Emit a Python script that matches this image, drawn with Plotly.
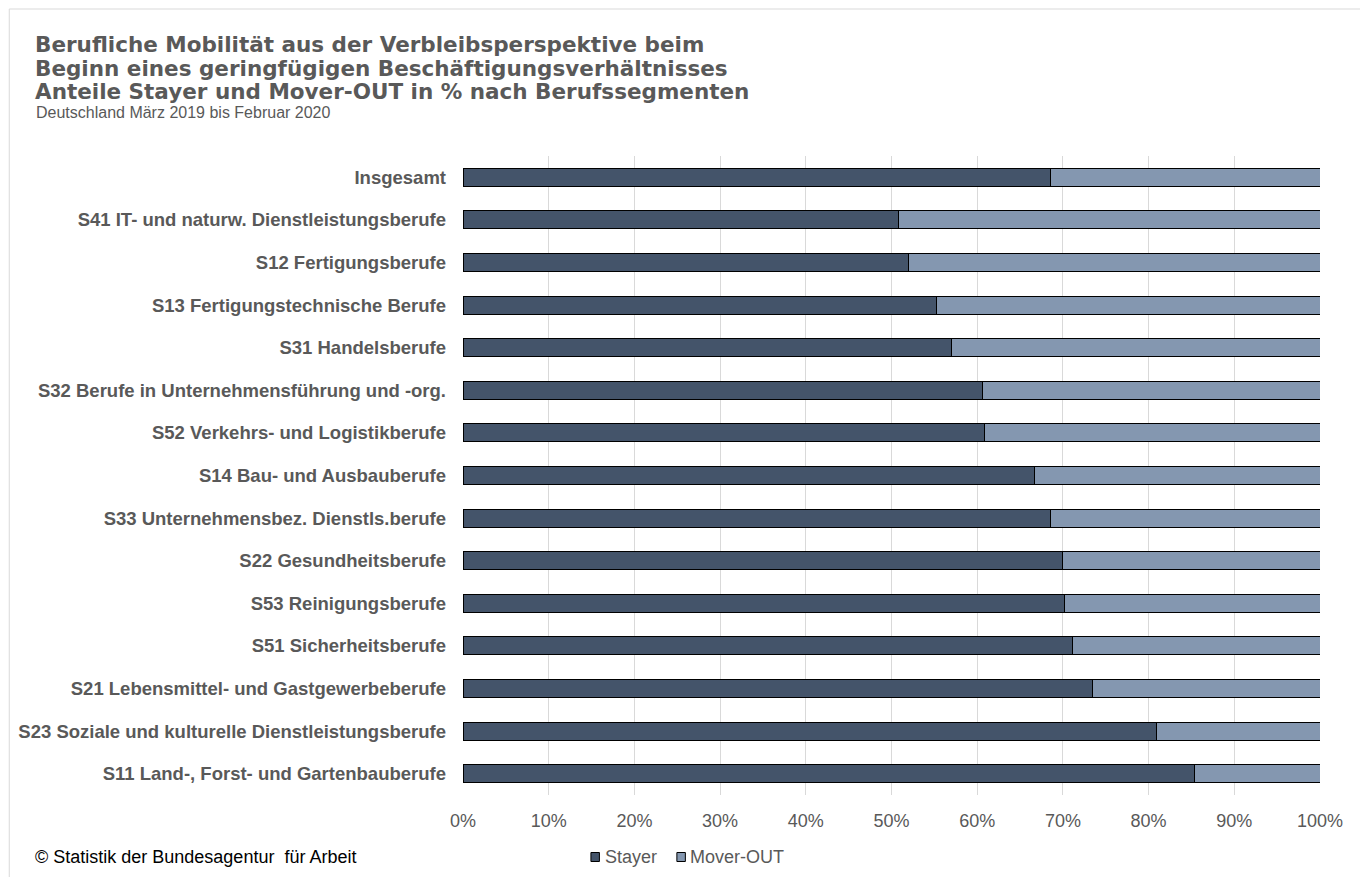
import plotly.graph_objects as go

categories = [
    "Insgesamt",
    "S41 IT- und naturw. Dienstleistungsberufe",
    "S12 Fertigungsberufe",
    "S13 Fertigungstechnische Berufe",
    "S31 Handelsberufe",
    "S32 Berufe in Unternehmensführung und -org.",
    "S52 Verkehrs- und Logistikberufe",
    "S14 Bau- und Ausbauberufe",
    "S33 Unternehmensbez. Dienstls.berufe",
    "S22 Gesundheitsberufe",
    "S53 Reinigungsberufe",
    "S51 Sicherheitsberufe",
    "S21 Lebensmittel- und Gastgewerbeberufe",
    "S23 Soziale und kulturelle Dienstleistungsberufe",
    "S11 Land-, Forst- und Gartenbauberufe",
]
stayer = [68.5, 50.8, 52.0, 55.2, 57.0, 60.6, 60.8, 66.7, 68.5, 70.0, 70.2, 71.1, 73.4, 80.9, 85.4]
mover_out = [31.5, 49.2, 48.0, 44.8, 43.0, 39.4, 39.2, 33.3, 31.5, 30.0, 29.8, 28.9, 26.6, 19.1, 14.6]
series_names = ["Stayer", "Mover-OUT"]
series_colors = ["#44546A", "#8497B0"]
x_ticks = [0, 10, 20, 30, 40, 50, 60, 70, 80, 90, 100]
x_ticklabels = [f"{v}%" for v in x_ticks]

title_lines = [
    "Berufliche Mobilität aus der Verbleibsperspektive beim",
    "Beginn eines geringfügigen Beschäftigungsverhältnisses",
    "Anteile Stayer und Mover-OUT in % nach Berufssegmenten",
]
subtitle = "Deutschland März 2019 bis Februar 2020"
source = "© Statistik der Bundesagentur  für Arbeit"

# page body has an 8px margin; work in window coordinates
OFF = 8
WIN_W, WIN_H = 1368, 877
W, H = WIN_W - OFF, WIN_H - OFF
PL, PR, PT, PB = 463, 1320.5, 156, 795  # plot area in window coords
L, R, T, B = PL - OFF, W - (PR - OFF), PT - OFF, H - (PB - OFF)
PW, PH = PR - PL, PB - PT


def px(xw):
    return (xw - PL) / PW


def py(yw):
    return (PB - yw) / PH


FONT = "Liberation Sans, Arial, sans-serif"
TFONT = "DejaVu Sans, Liberation Sans, Arial, sans-serif"
GRAY = "#595959"

fig = go.Figure()
for name, vals, col in zip(series_names, [stayer, mover_out], series_colors):
    fig.add_trace(go.Bar(
        y=categories, x=vals, name=name, orientation="h",
        marker=dict(color=col, line=dict(color="#000000", width=1)),
        showlegend=False,
    ))

annotations = []
for i, line in enumerate(title_lines):
    annotations.append(dict(
        text=f"<b>{line}</b>", xref="paper", yref="paper",
        x=px(33), y=py(45 + i * 23), xanchor="left", yanchor="middle",
        showarrow=False, font=dict(family=TFONT, size=21.5, color=GRAY),
    ))
annotations.append(dict(
    text=subtitle, xref="paper", yref="paper",
    x=px(34), y=py(113), xanchor="left", yanchor="middle",
    showarrow=False, font=dict(family=FONT, size=16, color=GRAY),
))
annotations.append(dict(
    text=source, xref="paper", yref="paper",
    x=px(33), y=py(857), xanchor="left", yanchor="middle",
    showarrow=False, font=dict(family=FONT, size=18, color="#000000"),
))

shapes = [dict(
    type="rect", xref="paper", yref="paper",
    x0=px(9), x1=px(1363), y0=py(885), y1=py(9),
    line=dict(color="#D9D9D9", width=1), fillcolor="rgba(0,0,0,0)", layer="below",
)]

# manual legend
leg_sq = [591, 677]
leg_txt = [604, 689]
for name, col, sx, tx in zip(series_names, series_colors, leg_sq, leg_txt):
    shapes.append(dict(
        type="rect", xref="paper", yref="paper",
        x0=px(sx), x1=px(sx + 8.5), y0=py(861.5), y1=py(852.5),
        line=dict(color="#000000", width=1), fillcolor=col, layer="above",
    ))
    annotations.append(dict(
        text=name, xref="paper", yref="paper",
        x=px(tx - 1), y=py(857), xanchor="left", yanchor="middle",
        showarrow=False, font=dict(family=FONT, size=18, color=GRAY),
    ))

fig.update_layout(
    width=W, height=H,
    margin=dict(l=L, r=R, t=T, b=B, autoexpand=False),
    barmode="stack", bargap=0.58,
    plot_bgcolor="white", paper_bgcolor="white",
    font=dict(family=FONT, color=GRAY),
    showlegend=False,
    annotations=annotations,
    shapes=shapes,
    xaxis=dict(
        range=[0, 100], tickvals=x_ticks, ticktext=x_ticklabels,
        showgrid=True, gridcolor="#D9D9D9", gridwidth=1,
        zeroline=False, showline=False,
        ticks="", ticklabelstandoff=13,
        tickfont=dict(family=FONT, size=18, color=GRAY),
    ),
    yaxis=dict(
        autorange="reversed", showgrid=False, zeroline=False, showline=False,
        ticks="", ticklabelstandoff=16,
        tickfont=dict(family=FONT, size=18.5, color=GRAY, weight="bold"),
    ),
)

fig.write_html("out.html")
